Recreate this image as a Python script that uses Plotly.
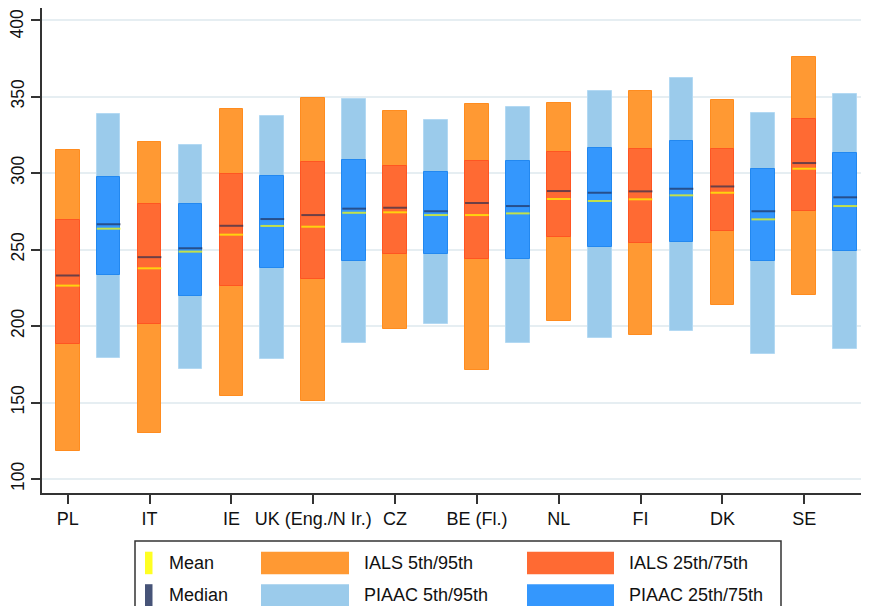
import plotly.graph_objects as go

countries = ["PL", "IT", "IE", "UK (Eng./N Ir.)", "CZ", "BE (Fl.)", "NL", "FI", "DK", "SE"]

ials_p5 = [118, 130, 154, 151, 198, 171, 203, 194, 214, 220]
ials_p25 = [188, 201, 226, 231, 247, 244, 258, 254, 262, 275]
ials_p75 = [269, 280, 299.5, 307, 304.5, 308, 313.5, 316, 316, 335]
ials_p95 = [315, 320.5, 342, 349, 340.5, 345, 346, 353.5, 348, 375.5]
ials_median = [233, 245, 265.5, 272.5, 277.3, 280.4, 288.2, 288, 291.2, 306.5]
ials_mean = [226.4, 237.7, 259.7, 264.9, 274.3, 272.5, 283, 282.8, 287.1, 302.8]

piaac_p5 = [179, 171.7, 178.2, 189, 201.5, 189, 192.4, 197, 182, 185]
piaac_p25 = [233.3, 219.8, 237.7, 242.3, 247.3, 243.6, 251.6, 255, 242.3, 249.2]
piaac_p75 = [297.2, 280, 298, 308.3, 300.4, 307.6, 316.3, 321, 302.6, 313.3]
piaac_p95 = [338.8, 318, 337.5, 348.2, 334.4, 343.3, 353.6, 362, 339.2, 351.8]
piaac_median = [266.5, 250.8, 269.9, 276.7, 275, 278.4, 287.1, 289.7, 275, 284.1]
piaac_mean = [263.6, 248.6, 265.4, 274, 272.5, 273.6, 281.7, 285.4, 269.7, 278.4]

y_ticks = [100, 150, 200, 250, 300, 350, 400]
y_ticktext = ["100", "150", "200", "250", "300", "350", "400"]

C_IALS_OUT = "#ff9933"
C_IALS_IN = "#ff6a33"
C_PIAAC_OUT = "#9bcbeb"
C_PIAAC_IN = "#3497fd"
C_MEAN = "rgba(255,255,0,0.7)"
C_MEDIAN = "rgba(30,40,80,0.65)"
LEG_MEAN = "#ffff22"
LEG_MEDIAN = "#475478"

BW = 0.58
n = len(countries)
x_ials = [2 * i for i in range(n)]
x_piaac = [2 * i + 1 for i in range(n)]

fig = go.Figure()

def add_bar(xs, lo, hi, color, edge):
    fig.add_trace(go.Bar(
        x=xs, y=[h - l for l, h in zip(lo, hi)], base=lo, width=BW,
        marker=dict(color=color, line=dict(color=edge, width=1)),
        showlegend=False, hoverinfo="skip"))

add_bar(x_ials, ials_p5, ials_p95, C_IALS_OUT, "#ff8c1f")
add_bar(x_ials, ials_p25, ials_p75, C_IALS_IN, "#ff5522")
add_bar(x_piaac, piaac_p5, piaac_p95, C_PIAAC_OUT, "#b3d9f3")
add_bar(x_piaac, piaac_p25, piaac_p75, C_PIAAC_IN, "#2288f0")

def add_marks(xs, vals, color):
    lx, ly = [], []
    for x, v in zip(xs, vals):
        lx += [x - BW / 2, x + BW / 2, None]
        ly += [v, v, None]
    fig.add_trace(go.Scatter(x=lx, y=ly, mode="lines",
                             line=dict(color=color, width=2),
                             showlegend=False, hoverinfo="skip"))

add_marks(x_ials, ials_median, C_MEDIAN)
add_marks(x_ials, ials_mean, C_MEAN)
add_marks(x_piaac, piaac_median, C_MEDIAN)
add_marks(x_piaac, piaac_mean, C_MEAN)

# page has an 8px body margin: figure is sized/offset to compensate
OFF = 8
W, H = 869 - 2 * OFF, 614 - 2 * OFF
L, R, T, B = 34, 0, 0, 113
PW, PH = W - L - R, H - T - B
PX_PER_UNIT = 40.92
X_LEFT = -0.628
X_RIGHT = X_LEFT + PW / PX_PER_UNIT

def px(xp):
    return (xp - OFF - L) / PW

def py(yp):
    return (H - B - (yp - OFF)) / PH

FONT = "Liberation Sans, Arial, sans-serif"
TICK_FONT = dict(family=FONT, size=17.5, color="#111111")

shapes = []
annotations = []
shapes.append(dict(type="rect", xref="paper", yref="paper",
                   x0=px(135), x1=px(781), y0=py(650), y1=py(541),
                   line=dict(color="#333333", width=1.5), fillcolor="white", layer="above"))

legend_items = [
    ("Mean", LEG_MEAN, 145, 152.5, 167, 0),
    ("Median", LEG_MEDIAN, 145, 152.5, 167, 1),
    ("IALS 5th/95th", C_IALS_OUT, 261, 349, 362, 0),
    ("PIAAC 5th/95th", C_PIAAC_OUT, 261, 349, 362, 1),
    ("IALS 25th/75th", C_IALS_IN, 527, 614, 627, 0),
    ("PIAAC 25th/75th", C_PIAAC_IN, 527, 614, 627, 1),
]
for label, col, sx0, sx1, tx, row in legend_items:
    y0 = 551.7 + row * 32.5
    y1 = y0 + 22.5
    shapes.append(dict(type="rect", xref="paper", yref="paper",
                       x0=px(sx0), x1=px(sx1), y0=py(y1), y1=py(y0),
                       line=dict(width=0), fillcolor=col, layer="above"))
    annotations.append(dict(text=label, xref="paper", yref="paper",
                            x=px(tx), y=py((y0 + y1) / 2), xanchor="left", yanchor="middle",
                            showarrow=False, font=dict(family=FONT, size=18, color="#111111")))

# the top tick label would run past the top edge of the page, so it is drawn
# as a rotated annotation kept just inside the figure; the others stay as axis labels
axis_ticktext = y_ticktext[:-1] + [""]
annotations.append(dict(text=y_ticktext[-1], xref="paper", yref="paper",
                        x=px(16), y=1.0, xanchor="center", yanchor="top",
                        textangle=-90, showarrow=False, font=TICK_FONT))

fig.update_layout(
    width=W, height=H,
    margin=dict(l=L, r=R, t=T, b=B, autoexpand=False),
    paper_bgcolor="white", plot_bgcolor="white",
    barmode="overlay",
    bargap=0,
    shapes=shapes, annotations=annotations,
    font=dict(family=FONT, size=18, color="#111111"),
    xaxis=dict(range=[X_LEFT, X_RIGHT], tickmode="array", tickvals=x_ials, ticktext=countries,
               automargin=False,
               showgrid=False, zeroline=False, showline=True, linecolor="#333333", linewidth=1.5,
               ticks="outside", ticklen=9, tickwidth=1.5, tickcolor="#333333",
               tickfont=dict(family=FONT, size=18, color="#111111")),
    yaxis=dict(range=[90.85, 407.84], tickmode="array", tickvals=y_ticks, ticktext=axis_ticktext,
               automargin=False,
               showgrid=True, gridcolor="#e6eef2", gridwidth=1.5, zeroline=False,
               showline=True, linecolor="#333333", linewidth=1.5,
               ticks="outside", ticklen=9, tickwidth=1.5, tickcolor="#333333",
               ticklabeloverflow="allow",
               tickangle=-90, tickfont=TICK_FONT),
)

fig.write_html("out.html")
